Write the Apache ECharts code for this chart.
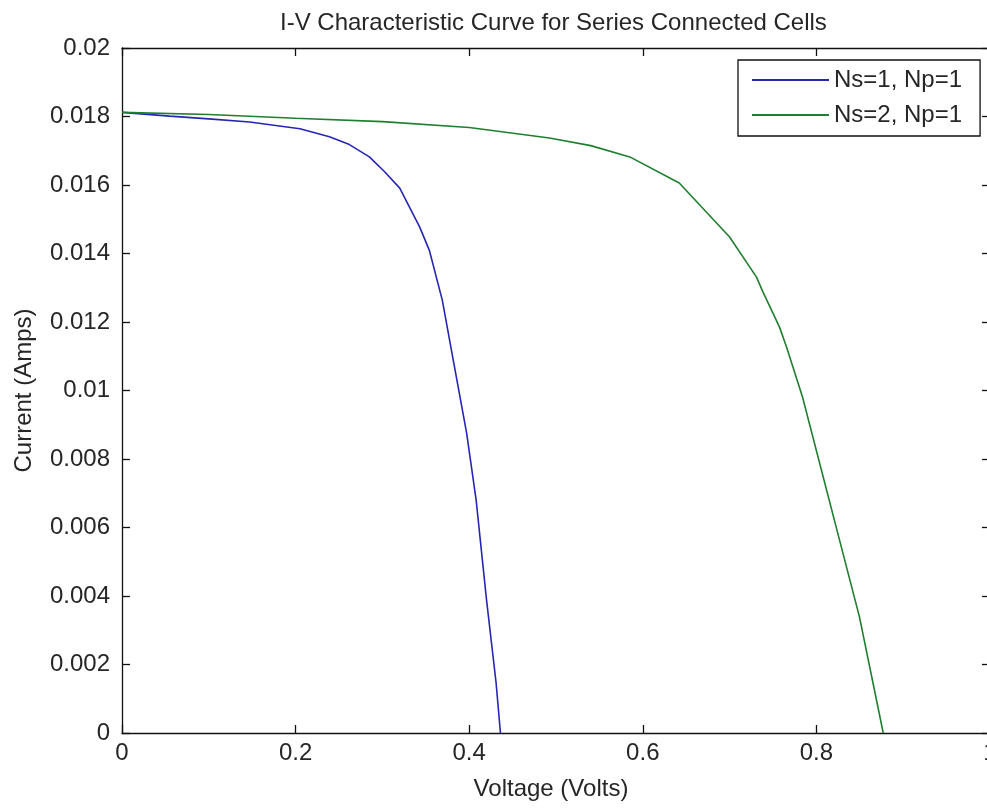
<!DOCTYPE html>
<html>
<head>
<meta charset="utf-8">
<script src="https://cdn.jsdelivr.net/npm/echarts@6/dist/echarts.min.js"></script>
<style>
html,body{margin:0;padding:0;background:#fff;}
#chart{width:987px;height:809px;}
</style>
</head>
<body>
<div id="chart"></div>
<script>
const titleText = 'I-V Characteristic Curve for Series Connected Cells';
const xName = 'Voltage (Volts)';
const yName = 'Current (Amps)';
const seriesNames = ['Ns=1, Np=1', 'Ns=2, Np=1'];

const volt1 = [0, 0.055, 0.1, 0.147, 0.205, 0.239, 0.262, 0.285, 0.302, 0.32, 0.343, 0.354, 0.369, 0.383, 0.397, 0.408, 0.420, 0.431, 0.436];
const curr1 = [0.01812, 0.01801, 0.01793, 0.01784, 0.01764, 0.01741, 0.01718, 0.01682, 0.01640, 0.01591, 0.01477, 0.01410, 0.01264, 0.01070, 0.00876, 0.00680, 0.00388, 0.00146, 0];

const volt2 = [0, 0.1, 0.2, 0.3, 0.4, 0.4925, 0.54, 0.585, 0.642, 0.700, 0.731, 0.738, 0.7575, 0.7656, 0.784, 0.8266, 0.8496, 0.877];
const curr2 = [0.01812, 0.01806, 0.01795, 0.01785, 0.01768, 0.01737, 0.01715, 0.01682, 0.01606, 0.01448, 0.01331, 0.01290, 0.01185, 0.01127, 0.00981, 0.00564, 0.00339, 0];

const xMin = 0, xMax = 1, xStep = 0.2;
const yMin = 0, yMax = 0.02, yStep = 0.002;

const colors = ['#2626b4', '#1f7f2f'];
const font = '"Liberation Sans", Arial, sans-serif';
const txt = '#262626';
const fs = 24;

function pairs(xs, ys){ return xs.map((x,i)=>[x, ys[i]]); }

const chart = echarts.init(document.getElementById('chart'), null, {renderer:'canvas'});

const axisCommon = {
  axisLine:{show:true, onZero:false, lineStyle:{color:'#111', width:1.3}},
  axisTick:{show:true, inside:true, length:8, lineStyle:{color:'#111', width:1.3}},
  splitLine:{show:false}
};

chart.setOption({
  animation:false,
  backgroundColor:'#fff',
  title:{
    text:titleText, left:275, top:6,
    textStyle:{fontFamily:font, fontSize:fs, fontWeight:'normal', color:txt}
  },
  legend:{
    left:738, top:60, orient:'vertical',
    padding:[8,18,9,14],
    icon:'rect',
    itemWidth:77, itemHeight:2, itemGap:11,
    borderColor:'#111', borderWidth:1.3, backgroundColor:'#fff',
    textStyle:{fontFamily:font, fontSize:fs, color:txt, lineHeight:24},
    data:seriesNames
  },
  grid:{left:122, top:48, width:868, height:685, containLabel:false, outerBoundsMode:'none'},
  xAxis:[
    Object.assign({}, axisCommon, {
      type:'value', position:'bottom', min:xMin, max:xMax, interval:xStep,
      name:xName, nameLocation:'middle', nameGap:44,
      nameTextStyle:{fontFamily:font, fontSize:fs, color:txt, padding:[0,10,0,0]},
      axisLabel:{fontFamily:font, fontSize:fs, color:txt, margin:8,
        formatter:v=>String(+v.toFixed(1))}
    }),
    Object.assign({}, axisCommon, {
      type:'value', position:'top', min:xMin, max:xMax, interval:xStep,
      axisLabel:{show:false}
    })
  ],
  yAxis:[
    Object.assign({}, axisCommon, {
      type:'value', position:'left', min:yMin, max:yMax, interval:yStep,
      name:yName, nameLocation:'middle', nameGap:86,
      nameTextStyle:{fontFamily:font, fontSize:fs, color:txt},
      axisLabel:{fontFamily:font, fontSize:fs, color:txt, margin:12,
        formatter:v=>String(+v.toFixed(3))}
    }),
    Object.assign({}, axisCommon, {
      type:'value', position:'right', min:yMin, max:yMax, interval:yStep,
      axisLabel:{show:false}
    })
  ],
  series:[
    {name:seriesNames[0], type:'line', xAxisIndex:0, yAxisIndex:0,
     data:pairs(volt1, curr1), symbol:'none', smooth:false,
     lineStyle:{color:colors[0], width:1.6}, itemStyle:{color:colors[0]}},
    {name:seriesNames[1], type:'line', xAxisIndex:0, yAxisIndex:0,
     data:pairs(volt2, curr2), symbol:'none', smooth:false,
     lineStyle:{color:colors[1], width:1.6}, itemStyle:{color:colors[1]}}
  ]
});
</script>
</body>
</html>
